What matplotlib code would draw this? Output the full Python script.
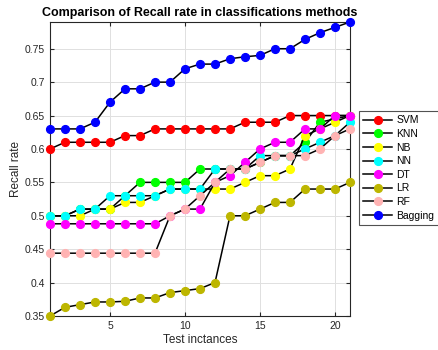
import numpy as np
import matplotlib
matplotlib.use("Agg")
from matplotlib import pyplot as plt

plt.rcParams['font.family'] = ['Liberation Sans', 'DejaVu Sans']

# test instances 1..21
x = np.arange(1, 22)

svm = [0.60, 0.61, 0.61, 0.61, 0.61, 0.62, 0.62, 0.63, 0.63, 0.63, 0.63,
       0.63, 0.63, 0.64, 0.64, 0.64, 0.65, 0.65, 0.65, 0.65, 0.65]
knn = [0.50, 0.50, 0.51, 0.51, 0.51, 0.53, 0.55, 0.55, 0.55, 0.55, 0.57,
       0.57, 0.57, 0.57, 0.58, 0.59, 0.59, 0.61, 0.64, 0.645, 0.65]
nb = [0.50, 0.50, 0.50, 0.51, 0.51, 0.52, 0.52, 0.53, 0.54, 0.54, 0.54,
      0.54, 0.54, 0.55, 0.56, 0.56, 0.57, 0.62, 0.63, 0.64, 0.65]
nn = [0.50, 0.50, 0.51, 0.51, 0.53, 0.53, 0.53, 0.53, 0.54, 0.54, 0.54,
      0.57, 0.57, 0.57, 0.59, 0.59, 0.59, 0.60, 0.61, 0.62, 0.64]
dt = [0.488, 0.488, 0.488, 0.488, 0.488, 0.488, 0.488, 0.488, 0.50, 0.51, 0.51,
      0.55, 0.56, 0.58, 0.60, 0.61, 0.61, 0.63, 0.63, 0.65, 0.65]
lr = [0.35, 0.363, 0.367, 0.371, 0.371, 0.372, 0.377, 0.377, 0.385, 0.388, 0.391,
      0.40, 0.50, 0.50, 0.51, 0.52, 0.52, 0.54, 0.54, 0.54, 0.55]
rf = [0.444, 0.444, 0.444, 0.444, 0.444, 0.444, 0.444, 0.444, 0.50, 0.51, 0.53,
      0.55, 0.57, 0.57, 0.58, 0.59, 0.59, 0.59, 0.60, 0.62, 0.63]
bagging = [0.63, 0.63, 0.63, 0.64, 0.67, 0.69, 0.69, 0.70, 0.70, 0.72, 0.727,
           0.727, 0.735, 0.738, 0.74, 0.75, 0.75, 0.764, 0.774, 0.782, 0.79]

names = ['SVM', 'KNN', 'NB', 'NN', 'DT', 'LR', 'RF', 'Bagging']
series = [svm, knn, nb, nn, dt, lr, rf, bagging]
colors = ['#ff0000', '#00ff00', '#ffff00', '#00ffff', '#ff00ff',
          '#bdb600', '#ffb3b3', '#0000ff']

fig = plt.figure(figsize=(4.39, 3.5), dpi=100)
ax = fig.add_axes([50/439, 1-316/350, 300/439, 294/350])

for name, vals, c in zip(names, series, colors):
    ax.plot(x, vals, '-o', color='black', lw=1.1, markersize=5.6,
            markerfacecolor=c, markeredgecolor=c, label=name, clip_on=False,
            zorder=3)

ax.set_xlim(1, 21)
ax.set_ylim(0.35, 0.79)
ax.set_xticks([5, 10, 15, 20])
ax.set_yticks(np.arange(0.35, 0.751, 0.05))
ax.set_yticklabels(['0.35', '0.4', '0.45', '0.5', '0.55', '0.6', '0.65', '0.7', '0.75'])
ax.grid(True, color='#e0e0e0', lw=0.7)
ax.set_axisbelow(True)
ax.tick_params(direction='in', top=True, right=True, labelsize=7.5,
               colors='#262626', length=3)
for s in ax.spines.values():
    s.set_color('#262626')
    s.set_linewidth(0.8)

ax.set_xlabel('Test inctances', fontsize=8.5, color='#262626', labelpad=2)
ax.set_ylabel('Recall rate', fontsize=8.5, color='#262626', labelpad=2)
ax.set_title('Comparison of Recall rate in classifications methods',
             fontsize=9, fontweight='bold', pad=4)

leg = ax.legend(loc='upper left', bbox_to_anchor=(1.03, 0.697), fontsize=7.5,
                frameon=True, fancybox=False, edgecolor='#262626',
                borderaxespad=0, handlelength=2.8, labelspacing=0.35,
                borderpad=0.4, handletextpad=0.4)
leg.get_frame().set_linewidth(0.8)

fig.savefig('out.png', dpi=100)
